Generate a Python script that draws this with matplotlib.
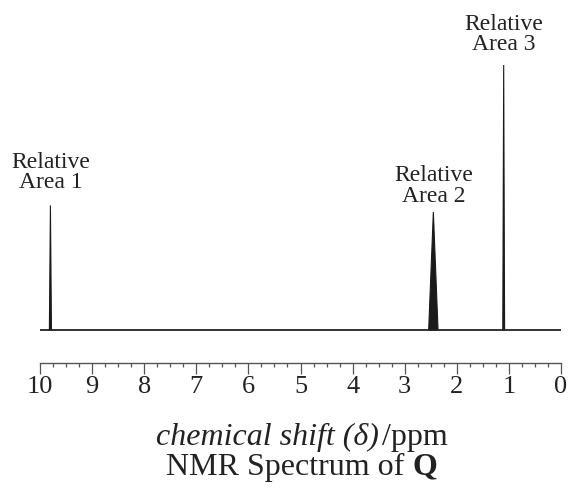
import matplotlib
matplotlib.use("Agg")
import matplotlib.pyplot as plt
import numpy as np

plt.rcParams['font.family'] = ['Liberation Serif', 'DejaVu Serif']

# Data
peak_shifts = [9.8, 2.45, 1.1]
peak_heights = [0.47, 0.445, 1.0]
peak_widths = [0.04, 0.18, 0.035]
peak_labels = ["Relative\nArea 1", "Relative\nArea 2", "Relative\nArea 3"]
tick_values = list(range(10, -1, -1))
tick_labels = [str(v) for v in tick_values]

fig = plt.figure(figsize=(5.68, 4.95), dpi=100)
ax = fig.add_axes([40/568, 165/495, 521/568, 265/495])
ax.set_xlim(10, 0)
ax.set_ylim(0, 1.0)

# baseline
ax.plot([10, 0], [0, 0], color='#222222', lw=1.3, solid_capstyle='butt', clip_on=False)

for s, h, w in zip(peak_shifts, peak_heights, peak_widths):
    ax.fill([s - w/2, s, s + w/2], [0, h, 0], color='#1a1a1a', lw=0.8,
            edgecolor='#1a1a1a', clip_on=False)

label_gaps = [9, 4, 7]  # points above peak top
for s, h, lab, g in zip(peak_shifts, peak_heights, peak_labels, label_gaps):
    ax.annotate(lab, xy=(s, h), xytext=(0, g), textcoords='offset points',
                ha='center', va='bottom', fontsize=17, linespacing=0.95,
                color='#222222', annotation_clip=False)

for side in ['top', 'left', 'right']:
    ax.spines[side].set_visible(False)
ax.spines['bottom'].set_position(('outward', 24))
ax.spines['bottom'].set_color('#555555')
ax.spines['bottom'].set_linewidth(1.0)
ax.set_yticks([])
ax.set_xticks(tick_values)
ax.set_xticklabels(tick_labels)
ax.set_xticks(np.arange(0, 10.01, 0.25), minor=True)
ax.tick_params(axis='x', which='major', length=8, width=0.9, color='#555555',
               labelsize=19, pad=1, labelcolor='#222222')
ax.tick_params(axis='x', which='minor', length=3, width=0.9, color='#555555')

# x label: italic part + regular part, centred together
fig.canvas.draw()
r = fig.canvas.get_renderer()
xc, yc = 302/568, 1 - 437/495
t1 = fig.text(0, yc, "chemical shift (δ)", style='italic', fontsize=23,
              ha='left', va='center', color='#222222')
t2 = fig.text(0, yc, "/ppm", fontsize=23, ha='left', va='center', color='#222222')
w1 = t1.get_window_extent(r).width / fig.bbox.width
w2 = t2.get_window_extent(r).width / fig.bbox.width
gap = 3 / fig.bbox.width
start = xc - (w1 + gap + w2) / 2
t1.set_x(start)
t2.set_x(start + w1 + gap)

t3 = fig.text(0, 1 - 467/495, "NMR Spectrum of ", fontsize=23, ha='left',
              va='center', color='#222222')
t4 = fig.text(0, 1 - 467/495, "Q", fontsize=23, weight='bold', ha='left',
              va='center', color='#222222')
w3 = t3.get_window_extent(r).width / fig.bbox.width
w4 = t4.get_window_extent(r).width / fig.bbox.width
start = xc - (w3 + w4) / 2
t3.set_x(start)
t4.set_x(start + w3)

fig.savefig("out.png", dpi=100)
